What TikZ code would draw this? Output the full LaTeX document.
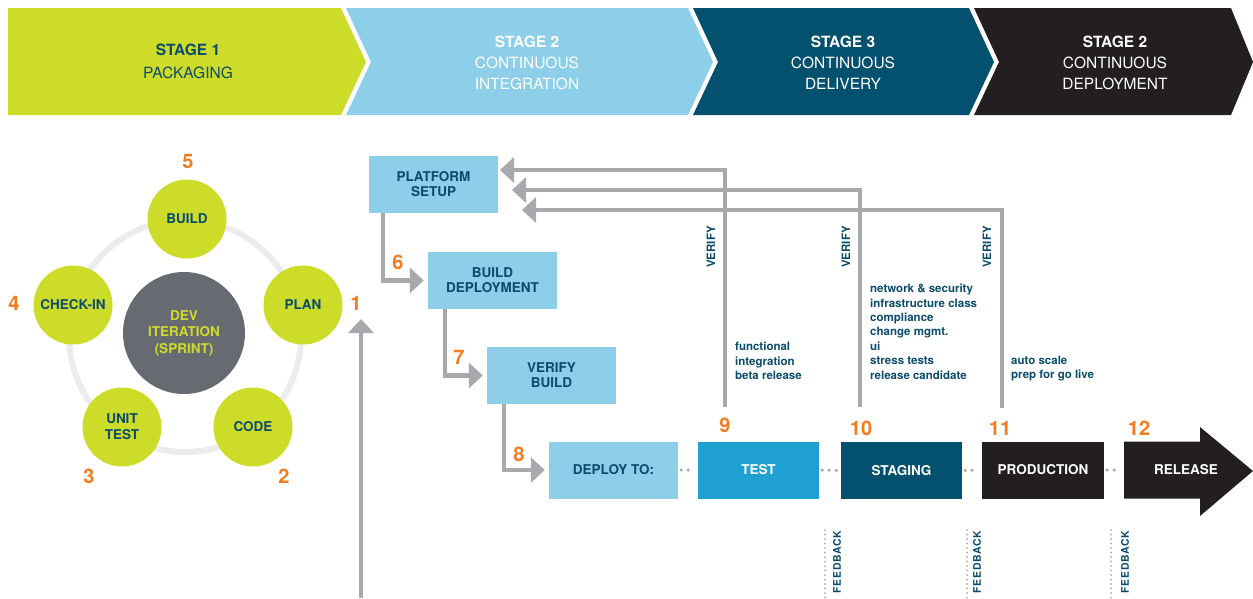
\documentclass[tikz,border=0pt]{standalone}
\usepackage{fontspec}
\setmainfont{TeX Gyre Heros}
\usepackage{tikz}
\usetikzlibrary{arrows.meta, positioning}
\usepackage{xcolor}
\definecolor{PipeGreen}{HTML}{CDDC29}
\definecolor{PipeSky}{HTML}{8DCFE8}
\definecolor{PipeCyan}{HTML}{1EA0D2}
\definecolor{PipeNavy}{HTML}{03506F}
\definecolor{PipeBlack}{HTML}{231F20}
\definecolor{PipeInk}{HTML}{0B4C6A}
\definecolor{PipeOrange}{HTML}{F47B20}
\definecolor{PipeGrey}{HTML}{A7A9AC}
\definecolor{PipeSlate}{HTML}{686A72}
\definecolor{PipeRing}{HTML}{ECECEC}

\begin{document}
\begin{tikzpicture}[x=1pt, y=-1pt,
            box/.style={fill=PipeSky, minimum width=129pt, minimum height=57pt, inner sep=0pt, align=center, text=PipeInk, font=\fontsize{13.5}{15}\selectfont\bfseries},
            phase/.style={circle, fill=PipeGreen, minimum size=79pt, inner sep=0pt, align=center, text=PipeInk, font=\fontsize{13.5}{16}\selectfont\bfseries},
            num/.style={inner sep=0pt, text=PipeOrange, font=\fontsize{20}{20}\selectfont\bfseries},
            stage/.style={align=center, inner sep=0pt, font=\fontsize{15.5}{21}\selectfont},
            note/.style={anchor=north west, align=left, inner sep=0pt, text=PipeInk, font=\fontsize{11.5}{14.4}\selectfont\bfseries},
            tag/.style={rotate=90, inner sep=0pt, text=PipeInk, font=\fontsize{11.5}{11.5}\selectfont\bfseries},
            arrow/.style={-{Triangle[width=25pt, length=14pt]}, line width=4.5pt, PipeGrey},
            dots/.style={PipeGrey, line width=3.5pt, line cap=round, dash pattern=on 0pt off 7pt, shorten <=3pt, shorten >=3pt},
            fbline/.style={PipeGrey, line width=2pt, line cap=round, dash pattern=on 0pt off 4.5pt}
        ]
            \useasboundingbox (0,0) rectangle (1253,598);

            % Stage banner
            \fill[PipeGreen] (8,8) -- (341,8) -- (366,62) -- (341,115) -- (8,115) -- cycle;
            \fill[PipeSky] (346,8) -- (688,8) -- (713,62) -- (688,115) -- (346,115) -- (371,62) -- cycle;
            \fill[PipeNavy] (693,8) -- (969,8) -- (994,62) -- (969,115) -- (693,115) -- (718,62) -- cycle;
            \fill[PipeBlack] (974,8) -- (1231,8) -- (1253,62) -- (1231,115) -- (974,115) -- (999,62) -- cycle;
            \node[stage, text=PipeInk] (packaging) at (188,61.5) {\textbf{STAGE 1}\\[2pt]PACKAGING};
            \node[stage, text=white] (integration) at (527,62.5) {\textbf{STAGE 2}\\CONTINUOUS\\INTEGRATION};
            \node[stage, text=white] (delivery) at (843,62.5) {\textbf{STAGE 3}\\CONTINUOUS\\DELIVERY};
            \node[stage, text=white] (deployment) at (1115,62.5) {\textbf{STAGE 2}\\CONTINUOUS\\DEPLOYMENT};

            % Sprint cycle
            \draw[PipeRing, line width=6pt] (185,336) circle (116);
            \node[circle, fill=PipeSlate, minimum size=122pt, inner sep=0pt, align=center, text=PipeGreen, font=\fontsize{13.5}{16.5}\selectfont\bfseries] (sprint) at (184,333) {DEV\\ITERATION\\(SPRINT)};
            \node[phase] (build) at (187,219) {BUILD};
            \node[phase] (plan) at (303,305) {PLAN};
            \node[phase] (code) at (253,427) {CODE};
            \node[phase] (unittest) at (122,427) {UNIT\\TEST};
            \node[phase] (checkin) at (73,305) {CHECK-IN};
            \node[num] (n1) at (356,303) {1};
            \node[num] (n2) at (284,476) {2};
            \node[num] (n3) at (89,476) {3};
            \node[num] (n4) at (14,303) {4};
            \node[num] (n5) at (188,161) {5};

            \coordinate (upfoot) at (361,598);
            \coordinate (uptip) at (361,319);
            \draw[arrow, line width=4pt] (upfoot) -- (uptip);

            % Integration steps
            \node[box] (setup) at (433.5,184.5) {PLATFORM\\SETUP};
            \node[box] (builddep) at (492.5,280.5) {BUILD\\DEPLOYMENT};
            \node[box] (verify) at (551.5,375.5) {VERIFY\\BUILD};
            \node[num] (n6) at (398,262) {6};
            \node[num] (n7) at (459,357) {7};
            \node[num] (n8) at (519,454) {8};

            % Deploy row
            \node[box] (deployto) at (613.5,470) {DEPLOY TO:};
            \node[box, fill=PipeCyan, text=white, minimum width=121pt] (test) at (758.5,470) {TEST};
            \node[box, fill=PipeNavy, text=white, minimum width=121pt] (staging) at (901.5,470.5) {STAGING};
            \node[box, fill=PipeBlack, text=white, minimum width=122pt] (prod) at (1043,470) {PRODUCTION};
            \fill[PipeBlack] (1124,441.5) -- (1200,441.5) -- (1200,427) -- (1253,471) -- (1200,516) -- (1200,498.5) -- (1124,498.5) -- cycle;
            \node[box, fill=none, text=white] (release) at (1186,470) {RELEASE};
            \node[num] (n9) at (725,425) {9};
            \node[num] (n10) at (861,428) {10};
            \node[num] (n11) at (1000,428) {11};
            \node[num] (n12) at (1139,428) {12};

            % Arrows
            \draw[arrow] ([xshift=14pt]setup.south west) |- ([xshift=-4pt]builddep.west);
            \draw[arrow] ([xshift=17pt]builddep.south west) |- ([xshift=-4pt]verify.west);
            \draw[arrow] ([xshift=17pt]verify.south west) |- ([xshift=-4pt]deployto.west);
            \draw[dots] (deployto.east) -- (test.west);
            \draw[dots] (test.east) -- (staging.west);
            \draw[dots] (staging.east) -- (prod.west);
            \draw[dots] (prod.east) -- ([xshift=-2.5pt]release.west);

            % Verify loops back to platform setup
            \coordinate (ret1) at (500,170);
            \coordinate (ret2) at (512,190);
            \coordinate (ret3) at (522,210);
            \draw[arrow] ([yshift=10pt]n9.north) |- (ret1);
            \draw[arrow] ([yshift=13pt,xshift=-1pt]n10.north) |- (ret2);
            \draw[arrow] ([yshift=13pt,xshift=2pt]n11.north) |- (ret3);
            \node[tag] (verify1) at (711,247) {VERIFY};
            \node[tag] (verify2) at (846,247) {VERIFY};
            \node[tag] (verify3) at (987,247) {VERIFY};
            \node[note] (checks1) at (735,342) {functional\\integration\\beta release};
            \node[note] (checks2) at (870,284) {network \& security\\infrastructure class\\compliance\\change mgmt.\\ui\\stress tests\\release candidate};
            \node[note] (checks3) at (1011,356) {auto scale\\prep for go live};

            % Feedback
            \coordinate (fb1) at (825,530);
            \coordinate (fb2) at (967,530);
            \coordinate (fb3) at (1111,530);
            \draw[fbline] (fb1) -- ++(0,68);
            \draw[fbline] (fb2) -- ++(0,68);
            \draw[fbline] (fb3) -- ++(0,68);
            \node[tag, font=\fontsize{10.5}{10.5}\selectfont\bfseries\addfontfeature{LetterSpace=6}] (feedback1) at (837,562) {FEEDBACK};
            \node[tag, font=\fontsize{10.5}{10.5}\selectfont\bfseries\addfontfeature{LetterSpace=6}] (feedback2) at (977,562) {FEEDBACK};
            \node[tag, font=\fontsize{10.5}{10.5}\selectfont\bfseries\addfontfeature{LetterSpace=6}] (feedback3) at (1125,562) {FEEDBACK};
        \end{tikzpicture}
\end{document}
